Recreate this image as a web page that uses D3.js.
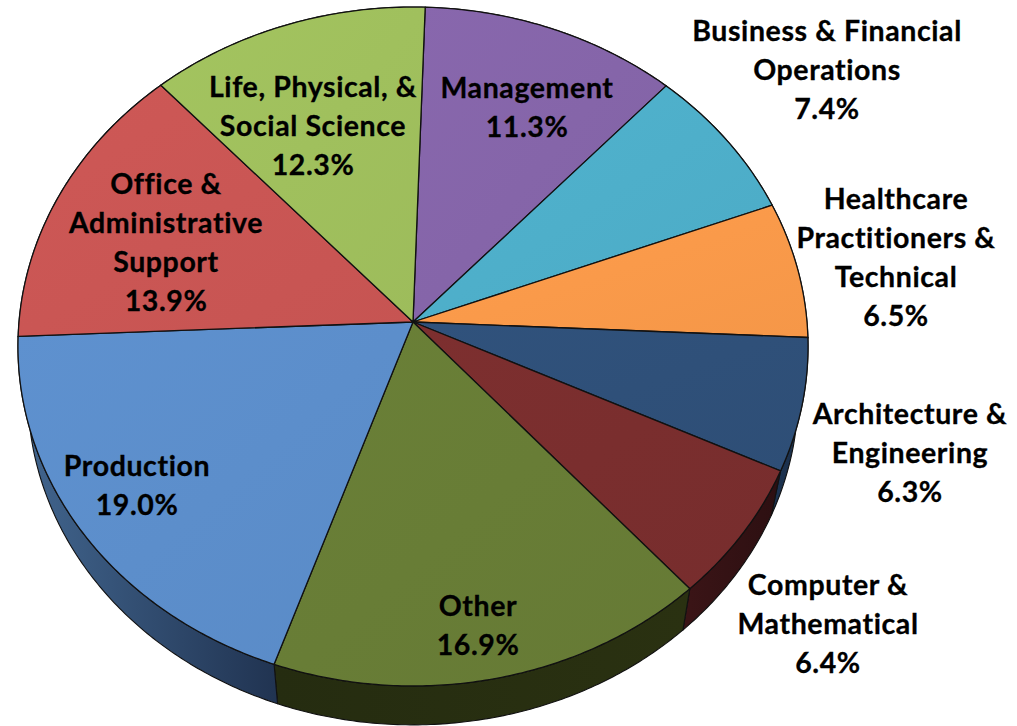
<!DOCTYPE html>
<html>
<head>
<meta charset="utf-8">
<style>html,body{margin:0;padding:0;background:#fff;overflow:hidden}svg{display:block}text{font-variant-ligatures:none}</style>
<script src="https://cdn.jsdelivr.net/npm/d3@7/dist/d3.min.js"></script>
</head>
<body>
<svg id="chart" width="1017" height="726"></svg>
<script>
const categories = ["Management","Business & Financial Operations","Healthcare Practitioners & Technical","Architecture & Engineering","Computer & Mathematical","Other","Production","Office & Administrative Support","Life, Physical, & Social Science"];
const shares = [11.3,7.4,6.5,6.3,6.4,16.9,19.0,13.9,12.3];
const labelLines = [["Management"],["Business & Financial","Operations"],["Healthcare","Practitioners &","Technical"],["Architecture &","Engineering"],["Computer &","Mathematical"],["Other"],["Production"],["Office &","Administrative","Support"],["Life, Physical, &","Social Science"]];
const topColors = ["#8565a9","#4eafca","#fa9a4a","#2f5079","#7a2e2e","#687d36","#5c8ecb","#ca5654","#a0c05d"];
const wallColors = [["#6b5088","#4a3760"],["#2d6f82","#1f5060"],["#a8662c","#80481c"],["#1c324f","#1c3049"],["#3a1416","#2c0f11"],["#252c10","#2a3111"],["#42668f","#213452"],["#7a3331","#5e2422"],["#647a38","#4c5c2a"]];
const labelAnchors = [[527,88],[827,31],[896,199],[910,414],[828,585],[478,606],[137,466],[166,184],[313,87]];

const apexX = 413, apexY = 322, radX = 394, radY = 337.7, persp = 0.0722;
const wallScale = 0.975, wallDrop = 48, lineGap = 38.9;
const startDeg = 1.9;

const svg = d3.select("#chart");
const defs = svg.append("defs");
const pie = d3.pie().sort(null).startAngle(startDeg*Math.PI/180).endAngle((startDeg+360)*Math.PI/180);
const arcs = pie(shares);

function topPoint(a){
  const u = Math.sin(a), v = Math.cos(a), d = 1 + persp*v;
  return [apexX + radX*u/d, apexY - radY*v/d];
}
function bottomPoint(a){
  const p = topPoint(a);
  return [apexX + (p[0]-apexX)*wallScale, apexY + wallDrop + (p[1]-apexY)*wallScale];
}
function samples(a0,a1){
  const n = Math.max(2, Math.ceil((a1-a0)/0.01));
  return d3.range(n+1).map(i => a0 + (a1-a0)*i/n);
}
const line = d3.line();

arcs.forEach((d,i) => {
  const pts = samples(d.startAngle,d.endAngle);
  const xs = pts.map(a => topPoint(a)[0]);
  const g = defs.append("linearGradient").attr("id","wall"+i)
    .attr("gradientUnits","userSpaceOnUse")
    .attr("x1",d3.min(xs)).attr("x2",d3.max(xs)).attr("y1",0).attr("y2",0);
  g.append("stop").attr("offset",0).attr("stop-color",wallColors[i][0]);
  g.append("stop").attr("offset",1).attr("stop-color",wallColors[i][1]);
  const t = defs.append("linearGradient").attr("id","top"+i)
    .attr("x1",0).attr("x2",1).attr("y1",0).attr("y2",1);
  const c = d3.color(topColors[i]);
  t.append("stop").attr("offset",0).attr("stop-color",c.brighter(0.06).formatHex());
  t.append("stop").attr("offset",1).attr("stop-color",c.darker(0.06).formatHex());
});

const walls = svg.append("g");
arcs.forEach((d,i) => {
  const pts = samples(d.startAngle,d.endAngle);
  const poly = pts.map(topPoint).concat(pts.slice().reverse().map(bottomPoint));
  walls.append("path").attr("d",line(poly)+"Z")
    .attr("fill","url(#wall"+i+")").attr("stroke","#111").attr("stroke-width",1.1).attr("stroke-linejoin","round");
});

const tops = svg.append("g");
arcs.forEach((d,i) => {
  const poly = [[apexX,apexY]].concat(samples(d.startAngle,d.endAngle).map(topPoint));
  tops.append("path").attr("d",line(poly)+"Z")
    .attr("fill","url(#top"+i+")").attr("stroke","#111").attr("stroke-width",1.3).attr("stroke-linejoin","round");
});

const labels = svg.append("g")
  .attr("font-family","Lato, 'Noto Sans', sans-serif").attr("font-weight",700)
  .attr("font-size",28.5).attr("letter-spacing",0.6).attr("fill","#000")
  .attr("stroke","#000").attr("stroke-width",0.3).attr("text-anchor","middle");
categories.forEach((name,i) => {
  const lines = labelLines[i].concat([shares[i].toFixed(1)+"%"]);
  lines.forEach((txt,j) => {
    labels.append("text").attr("x",labelAnchors[i][0]).attr("y",labelAnchors[i][1]+j*lineGap)
      .attr("dy","0.35em").text(txt);
  });
});
</script>
</body>
</html>
